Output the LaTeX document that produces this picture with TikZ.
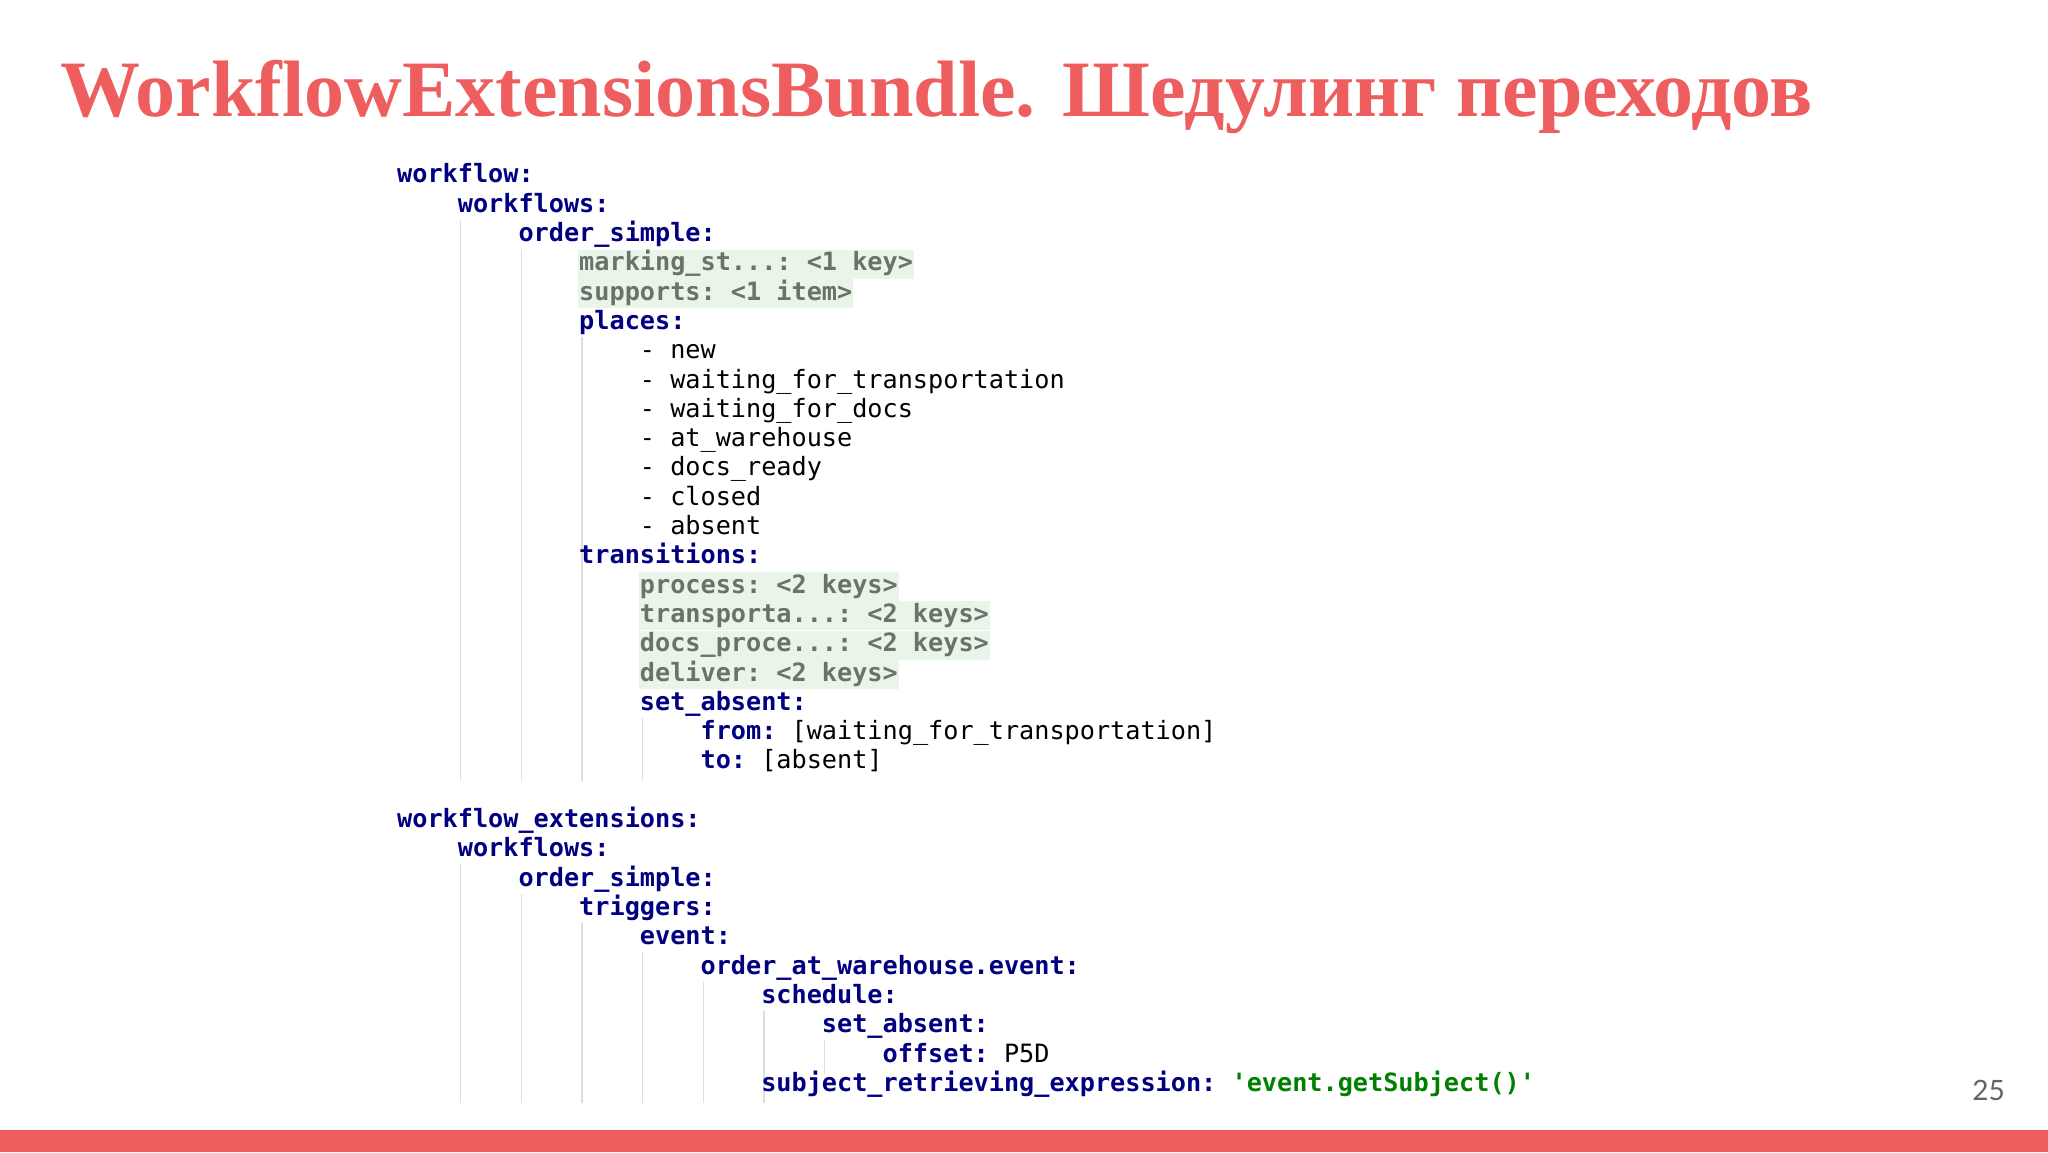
\documentclass[tikz,border=0pt]{standalone}
\usepackage{fontspec}
\setmainfont{Liberation Serif}
\setmonofont{DejaVu Sans Mono}
\newfontfamily\numfont{Lato}
\definecolor{coral}{RGB}{239,94,94}
\definecolor{kw}{RGB}{0,0,128}
\definecolor{grk}{RGB}{105,115,105}
\definecolor{hl}{RGB}{234,245,234}
\definecolor{guide}{RGB}{222,222,222}
\definecolor{str}{RGB}{0,128,0}
\tikzset{
  code/.style={anchor=base west,inner xsep=1pt,inner ysep=0pt,text height=21pt,text depth=8pt,font=\fontsize{25.2}{29}\selectfont\ttfamily},
  hlbox/.style={code,fill=hl},
  guideline/.style={draw=guide,line width=1.2pt}
}
\newcommand\K[1]{\textcolor{kw}{\bfseries #1}}
\newcommand\G[1]{\textcolor{grk}{\bfseries #1}}
\newcommand\V[1]{\textcolor{black}{#1}}
\begin{document}
\begin{tikzpicture}[x=1pt,y=1pt]
\fill[white] (0,0) rectangle (2048,1152);
\useasboundingbox (0,0) rectangle (2048,1152);
\foreach \c/\a/\b in {4/2/20,8/3/20,12/6/20,16/19/20,4/24/31,8/25/31,12/26/31,16/27/31,20/28/31,24/29/31,28/30/30}{
  \draw[guideline] ({400+15.17*\c},{969-29.3*\a+22}) -- ({400+15.17*\c},{969-29.3*\b-12});
}
\node[font=\fontsize{80}{84}\selectfont\bfseries,text=coral,anchor=base west,inner sep=0] (title) at (60,1035) {WorkflowExtensionsBundle. Шедулинг переходов};
\node[code] (l0) at ({396+15.17*0},{969-29.3*0}) {\K{workflow:}};
\node[code] (l1) at ({396+15.17*4},{969-29.3*1}) {\K{workflows:}};
\node[code] (l2) at ({396+15.17*8},{969-29.3*2}) {\K{order\_simple:}};
\node[hlbox] (l3) at ({396+15.17*12},{969-29.3*3}) {\G{marking\_st...: <1 key>}};
\node[hlbox] (l4) at ({396+15.17*12},{969-29.3*4}) {\G{supports: <1 item>}};
\node[code] (l5) at ({396+15.17*12},{969-29.3*5}) {\K{places:}};
\node[code] (l6) at ({396+15.17*16},{969-29.3*6}) {\V{- new}};
\node[code] (l7) at ({396+15.17*16},{969-29.3*7}) {\V{- waiting\_for\_transportation}};
\node[code] (l8) at ({396+15.17*16},{969-29.3*8}) {\V{- waiting\_for\_docs}};
\node[code] (l9) at ({396+15.17*16},{969-29.3*9}) {\V{- at\_warehouse}};
\node[code] (l10) at ({396+15.17*16},{969-29.3*10}) {\V{- docs\_ready}};
\node[code] (l11) at ({396+15.17*16},{969-29.3*11}) {\V{- closed}};
\node[code] (l12) at ({396+15.17*16},{969-29.3*12}) {\V{- absent}};
\node[code] (l13) at ({396+15.17*12},{969-29.3*13}) {\K{transitions:}};
\node[hlbox] (l14) at ({396+15.17*16},{969-29.3*14}) {\G{process: <2 keys>}};
\node[hlbox] (l15) at ({396+15.17*16},{969-29.3*15}) {\G{transporta...: <2 keys>}};
\node[hlbox] (l16) at ({396+15.17*16},{969-29.3*16}) {\G{docs\_proce...: <2 keys>}};
\node[hlbox] (l17) at ({396+15.17*16},{969-29.3*17}) {\G{deliver: <2 keys>}};
\node[code] (l18) at ({396+15.17*16},{969-29.3*18}) {\K{set\_absent:}};
\node[code] (l19) at ({396+15.17*20},{969-29.3*19}) {\K{from:} \V{[waiting\_for\_transportation]}};
\node[code] (l20) at ({396+15.17*20},{969-29.3*20}) {\K{to:} \V{[absent]}};
\node[code] (l22) at ({396+15.17*0},{969-29.3*22}) {\K{workflow\_extensions:}};
\node[code] (l23) at ({396+15.17*4},{969-29.3*23}) {\K{workflows:}};
\node[code] (l24) at ({396+15.17*8},{969-29.3*24}) {\K{order\_simple:}};
\node[code] (l25) at ({396+15.17*12},{969-29.3*25}) {\K{triggers:}};
\node[code] (l26) at ({396+15.17*16},{969-29.3*26}) {\K{event:}};
\node[code] (l27) at ({396+15.17*20},{969-29.3*27}) {\K{order\_at\_warehouse.event:}};
\node[code] (l28) at ({396+15.17*24},{969-29.3*28}) {\K{schedule:}};
\node[code] (l29) at ({396+15.17*28},{969-29.3*29}) {\K{set\_absent:}};
\node[code] (l30) at ({396+15.17*32},{969-29.3*30}) {\K{offset:} \V{P5D}};
\node[code] (l31) at ({396+15.17*24},{969-29.3*31}) {\K{subject\_retrieving\_expression:} \textcolor{str}{\bfseries 'event.getSubject()'}};
\node[anchor=base east,font=\numfont\fontsize{28}{30}\selectfont,text={rgb,255:red,100;green,100;blue,100},inner sep=0] (page) at (2005,52) {25};
\fill[coral] (0,0) rectangle (2048,22);
\end{tikzpicture}
\end{document}
